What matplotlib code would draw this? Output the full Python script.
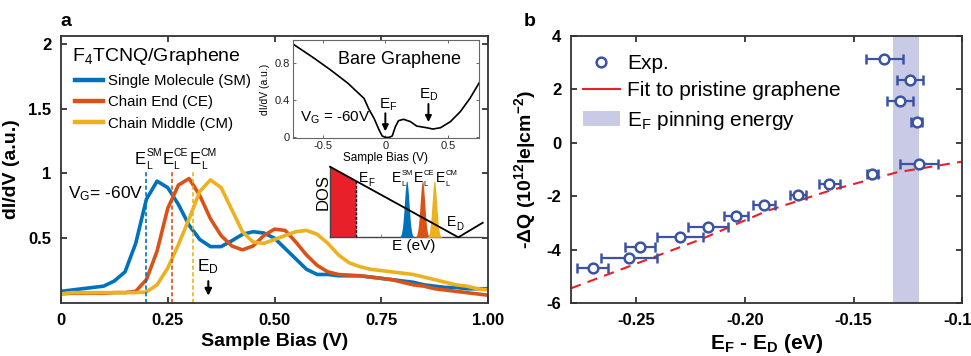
import numpy as np
import matplotlib
matplotlib.use('Agg')
import matplotlib.pyplot as plt
from matplotlib.lines import Line2D
from matplotlib.patches import Patch

plt.rcParams['font.family'] = ['Liberation Sans', 'DejaVu Sans']
plt.rcParams['mathtext.fontset'] = 'custom'
plt.rcParams['mathtext.rm'] = 'Liberation Sans'
plt.rcParams['mathtext.it'] = 'Liberation Sans:italic'
plt.rcParams['mathtext.bf'] = 'Liberation Sans:bold'
plt.rcParams['mathtext.default'] = 'regular'

# ---------------- data: panel a ----------------
bias = [0.0, 0.025, 0.05, 0.075, 0.1, 0.125, 0.15, 0.175, 0.2, 0.225,
        0.25, 0.275, 0.3, 0.325, 0.35, 0.375, 0.4, 0.425, 0.45, 0.475,
        0.5, 0.525, 0.55, 0.575, 0.6, 0.625, 0.65, 0.675, 0.7, 0.725,
        0.75, 0.775, 0.8, 0.825, 0.85, 0.875, 0.9, 0.925, 0.95, 0.975, 1.0]
sm = [0.09, 0.10, 0.11, 0.12, 0.13, 0.17, 0.24, 0.46, 0.80, 0.94,
      0.89, 0.76, 0.60, 0.49, 0.435, 0.435, 0.48, 0.53, 0.55, 0.54,
      0.50, 0.42, 0.34, 0.26, 0.22, 0.22, 0.21, 0.21, 0.21, 0.20,
      0.19, 0.18, 0.17, 0.16, 0.14, 0.13, 0.12, 0.12, 0.11, 0.11, 0.11]
ce = [0.07, 0.075, 0.075, 0.075, 0.075, 0.08, 0.08, 0.09, 0.18, 0.40,
      0.73, 0.91, 0.96, 0.83, 0.65, 0.52, 0.44, 0.41, 0.44, 0.52,
      0.57, 0.56, 0.47, 0.37, 0.29, 0.24, 0.22, 0.215, 0.21, 0.20,
      0.19, 0.18, 0.16, 0.14, 0.13, 0.11, 0.10, 0.09, 0.08, 0.07, 0.06]
cm = [0.07, 0.08, 0.08, 0.08, 0.08, 0.08, 0.08, 0.08, 0.085, 0.14,
      0.27, 0.45, 0.65, 0.86, 0.95, 0.89, 0.72, 0.55, 0.47, 0.46,
      0.49, 0.52, 0.55, 0.56, 0.53, 0.46, 0.37, 0.31, 0.28, 0.26,
      0.25, 0.24, 0.23, 0.22, 0.20, 0.18, 0.16, 0.14, 0.13, 0.11, 0.10]
series_labels = ['Single Molecule (SM)', 'Chain End (CE)', 'Chain Middle (CM)']
el_positions = [0.20, 0.26, 0.31]
el_labels = ['SM', 'CE', 'CM']
ed_bias = 0.345

# inset: bare graphene
bare_bias = [-0.73, -0.57, -0.44, -0.30, -0.17, -0.13, -0.09, -0.05, -0.025, 0.0,
             0.03, 0.055, 0.08, 0.105, 0.145, 0.2, 0.25, 0.33, 0.38, 0.44,
             0.52, 0.6, 0.675, 0.75]
bare_didv = [1.0, 0.855, 0.73, 0.585, 0.42, 0.30, 0.205, 0.08, 0.015, 0.0,
             0.0, 0.015, 0.115, 0.18, 0.195, 0.17, 0.122, 0.104, 0.09, 0.104,
             0.17, 0.28, 0.42, 0.59]

# schematic DOS inset
dos_E = [0.0, 0.84, 1.0]
dos_val = [1.0, 0.0, 0.207]
ef_sch = 0.17
peak_E = [0.502, 0.605, 0.683]
peak_h = [0.80, 0.80, 0.80]
peak_w = [0.015, 0.015, 0.015]

# ---------------- data: panel b ----------------
ef_ed = [-0.270, -0.2532, -0.2482, -0.2298, -0.217, -0.2041, -0.1913, -0.1757,
         -0.1611, -0.1413, -0.1199, -0.1209, -0.1286, -0.124, -0.1359]
dq = [-4.69, -4.29, -3.91, -3.53, -3.14, -2.73, -2.34, -1.95,
      -1.54, -1.15, -0.78, 0.79, 1.575, 2.35, 3.12]
dq_xerr = [0.0072, 0.013, 0.007, 0.0107, 0.0091, 0.0055, 0.005, 0.0037,
           0.0047, 0.0027, 0.0086, 0.0025, 0.006, 0.0058, 0.0085]
fit_x = [-0.28, -0.25, -0.22, -0.19, -0.16, -0.13, -0.10]
fit_y = [-5.44, -4.52, -3.60, -2.55, -1.76, -1.10, -0.70]
pin_range = [-0.1317, -0.1199]

colors = ['#0072BD', '#D95319', '#EDB120']
spine_c = '#333333'
blue_b = '#3A53A4'

fig = plt.figure(figsize=(9.71, 3.56), dpi=100)


def style_axes(ax, lw=1.3, size=12):
    for s in ax.spines.values():
        s.set_linewidth(lw)
        s.set_color(spine_c)
    ax.tick_params(direction='in', length=4, width=lw, top=True, right=True,
                   labelsize=size, colors=spine_c, labelcolor='black', pad=7)
    for t in ax.get_xticklabels() + ax.get_yticklabels():
        t.set_fontweight('bold')


def elabel(ax, x, y, sub, sup, fs, sfs, zorder=6):
    """E with stacked subscript and superscript."""
    ax.text(x, y, 'E', fontsize=fs, va='baseline', ha='left', zorder=zorder)
    dx = 0.68 * fs
    if sup:
        ax.annotate(sup, xy=(x, y), xytext=(dx, 0.45 * fs),
                    textcoords='offset points', fontsize=sfs,
                    va='baseline', ha='left', zorder=zorder)
    if sub:
        ax.annotate(sub, xy=(x, y), xytext=(dx, -0.3 * fs),
                    textcoords='offset points', fontsize=sfs,
                    va='baseline', ha='left', zorder=zorder)


# ---------------- panel a ----------------
axA = fig.add_axes([0.0628, 0.1489, 0.4398, 0.75])
for ys, c, lab in zip([sm, ce, cm], colors, series_labels):
    axA.plot(bias, ys, color=c, lw=2.6, label=lab, solid_joinstyle='round')
axA.set_xlim(0, 1.0)
axA.set_ylim(0, 2.06)
axA.set_xticks([0, 0.25, 0.5, 0.75, 1.0])
axA.set_xticklabels(['0', '0.25', '0.50', '0.75', '1.00'])
axA.set_yticks([0.5, 1.0, 1.5, 2.0])
axA.set_yticklabels(['0.5', '1', '1.5', '2'])
style_axes(axA)
axA.set_xlabel('Sample Bias (V)', fontsize=14, fontweight='bold', labelpad=4)
axA.set_ylabel('dI/dV (a.u.)', fontsize=14, fontweight='bold', labelpad=6)

for xv, c in zip(el_positions, colors):
    axA.plot([xv, xv], [0, 1.01], color=c, lw=1.2, ls=(0, (2.5, 1.5)))
label_x = [0.173, 0.237, 0.301]
for xv, lab in zip(label_x, el_labels):
    elabel(axA, xv, 1.075, 'L', lab, 12, 7.5)
axA.text(0.016, 0.805, r'V$_G$= -60V', fontsize=12.5, va='baseline')
axA.annotate('', xy=(ed_bias, 0.035), xytext=(ed_bias, 0.19),
             arrowprops=dict(arrowstyle='-|>', color='black', lw=1.5,
                             mutation_scale=10))
axA.text(ed_bias, 0.205, r'E$_D$', fontsize=12.5, ha='center', va='bottom')

axA.text(0.026, 1.90, r'F$_4$TCNQ/Graphene', fontsize=14, va='center')
handles = [Line2D([], [], color=c, lw=3.2) for c in colors]
axA.legend(handles, series_labels, loc='upper left',
           bbox_to_anchor=(0.032, 0.857), frameon=False, fontsize=10.8,
           handlelength=1.9, handletextpad=0.35, labelspacing=0.48,
           borderpad=0, borderaxespad=0)

fig.text(0.062, 0.94, 'a', fontsize=14, fontweight='bold', va='center')
fig.text(0.539, 0.94, 'b', fontsize=14, fontweight='bold', va='center')

# ---------------- inset: bare graphene ----------------
axI = fig.add_axes([0.3014, 0.6115, 0.1922, 0.2761])
axI.plot(bare_bias, bare_didv, color='black', lw=1.2)
axI.set_xlim(-0.74, 0.75)
axI.set_ylim(-0.01, 1.05)
axI.set_xticks([-0.5, 0, 0.5])
axI.set_xticklabels(['-0.5', '0', '0.5'])
axI.set_yticks([0, 0.4, 0.8])
axI.set_yticklabels(['0', '0.4', '0.8'])
for s in axI.spines.values():
    s.set_linewidth(0.8)
    s.set_color('#666666')
axI.tick_params(direction='in', length=2.5, width=0.7, top=True, right=True,
                labelsize=8, colors='#666666', labelcolor='#222222', pad=2)
axI.set_xlabel('Sample Bias (V)', fontsize=8.5, labelpad=1)
axI.set_ylabel('dI/dV (a.u.)', fontsize=7.5, labelpad=3)
axI.text(0.11, 0.835, 'Bare Graphene', fontsize=13, ha='center', va='center')
axI.text(-0.68, 0.17, r'V$_G$ = -60V', fontsize=11, va='baseline')
axI.annotate('', xy=(0.0, 0.035), xytext=(0.0, 0.29),
             arrowprops=dict(arrowstyle='-|>', color='black', lw=1.4,
                             mutation_scale=9))
axI.text(0.02, 0.31, r'E$_F$', fontsize=11, ha='center', va='baseline')
axI.annotate('', xy=(0.344, 0.135), xytext=(0.344, 0.39),
             arrowprops=dict(arrowstyle='-|>', color='black', lw=1.4,
                             mutation_scale=9))
axI.text(0.35, 0.42, r'E$_D$', fontsize=11, ha='center', va='baseline')

# ---------------- inset: DOS schematic ----------------
axS = fig.add_axes([0.3399, 0.3334, 0.1573, 0.1983])
axS.set_facecolor('none')
axS.set_xlim(0, 1)
axS.set_ylim(0, 1)
axS.spines['top'].set_visible(False)
axS.spines['right'].set_visible(False)
for s in ['left', 'bottom']:
    axS.spines[s].set_linewidth(1.0)
    axS.spines[s].set_color('#444444')
axS.set_xticks([0.333, 0.667])
axS.set_yticks([])
axS.tick_params(direction='in', length=2, width=0.6, labelbottom=False,
                colors='#777777')
axS.plot(dos_E, dos_val, color='black', lw=1.3, clip_on=False, zorder=5)
fx = [0.0, ef_sch]
axS.fill_between(fx, 0, np.interp(fx, dos_E, dos_val), color='#E8202A',
                 lw=0, zorder=2)
axS.plot([ef_sch, ef_sch], [0, np.interp(ef_sch, dos_E, dos_val)],
         color='black', lw=1.0, ls=(0, (2, 1.2)), zorder=4)
ee = np.linspace(0.4, 0.8, 300)
for pe, ph, pw, c in zip(peak_E, peak_h, peak_w, colors):
    axS.fill_between(ee, 0, ph * np.exp(-0.5 * ((ee - pe) / pw) ** 2),
                     color=c, lw=0, zorder=3)
elabel(axS, 0.19, 0.788, 'F', '', 10, 7)
for xv, lab in zip([0.404, 0.55, 0.694], el_labels):
    elabel(axS, xv, 0.788, 'L', lab, 10, 5.5)
elabel(axS, 0.764, 0.164, 'D', '', 10, 7)
axS.text(-0.045, 0.645, 'DOS', fontsize=12, rotation=90, ha='center',
         va='center')
axS.text(0.545, -0.13, 'E (eV)', fontsize=11, ha='center', va='center')

# ---------------- panel b ----------------
axB = fig.add_axes([0.588, 0.148, 0.403, 0.751])
axB.axvspan(pin_range[0], pin_range[1], color='#C8CAE6', lw=0, zorder=0)
axB.plot(fit_x, fit_y, color='#E8202A', lw=1.5, ls=(0, (5, 3.5)), zorder=2)
axB.errorbar(ef_ed, dq, xerr=dq_xerr, fmt='o', mfc='white', mec=blue_b,
             ecolor=blue_b, mew=1.8, ms=7, elinewidth=1.6, capsize=3.5,
             capthick=1.6, zorder=3)
axB.set_xlim(-0.28, -0.10)
axB.set_ylim(-6, 4)
axB.set_xticks([-0.25, -0.20, -0.15, -0.10])
axB.set_xticklabels(['-0.25', '-0.20', '-0.15', '-0.10'])
axB.set_yticks([-6, -4, -2, 0, 2, 4])
axB.set_yticklabels(['-6', '-4', '-2', '0', '2', '4'])
style_axes(axB)
axB.set_xlabel(r'E$_\mathbf{F}$ - E$_\mathbf{D}$ (eV)', fontsize=15,
               fontweight='bold', labelpad=3)
axB.set_ylabel(r'-ΔQ (10$^{12}$|e|cm$^{-2}$)', fontsize=14,
               fontweight='bold', labelpad=6)
hb = [Line2D([], [], marker='o', ls='none', mfc='white', mec=blue_b, mew=1.8,
             ms=7),
      Line2D([], [], color='#E8202A', lw=1.5),
      Patch(facecolor='#C8CAE6', edgecolor='none')]
axB.legend(hb, ['Exp.', 'Fit to pristine graphene', r'E$_F$ pinning energy'],
           loc='upper left', bbox_to_anchor=(0.03, 0.933), frameon=False,
           fontsize=15, handlelength=1.8, handletextpad=0.35,
           labelspacing=0.4, borderpad=0, borderaxespad=0)

fig.savefig('out.png', dpi=100)
